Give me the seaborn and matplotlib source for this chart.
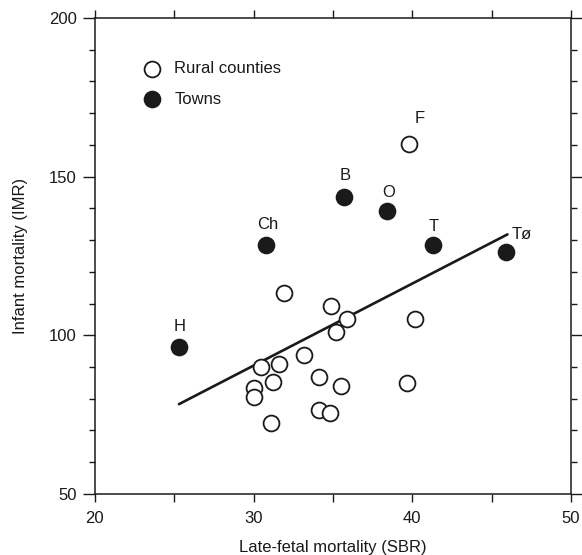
import matplotlib
matplotlib.use("Agg")
import matplotlib.pyplot as plt
from matplotlib.ticker import MultipleLocator
import seaborn as sns
import pandas as pd

# Rural counties: late-fetal mortality (SBR) vs infant mortality (IMR)
rural_sbr = [39.8, 31.9, 30.5, 31.6, 31.2, 30.0, 30.0, 31.1, 33.2, 34.9,
             35.9, 35.2, 40.2, 34.1, 35.5, 39.7, 34.1, 34.8]
rural_imr = [160.3, 113.4, 89.9, 90.9, 85.4, 83.3, 80.7, 72.5, 93.8, 109.2,
             105.1, 101.0, 105.1, 87.0, 84.1, 85.1, 76.5, 75.4]
rural_names = ["F"] + [""] * 17

# Towns
town_names = ["H", "Ch", "B", "O", "T", "Tø"]
town_sbr = [25.3, 30.8, 35.7, 38.4, 41.3, 45.9]
town_imr = [96.2, 128.5, 143.7, 139.3, 128.5, 126.2]

# Regression line end points
fit_sbr = [25.3, 46.0]
fit_imr = [78.3, 131.8]

sns.set_style("ticks")
plt.rcParams["font.family"] = ["Liberation Sans", "DejaVu Sans"]
ink = "#1a1a1a"
fs = 12

fig, ax = plt.subplots(figsize=(5.82, 5.55), dpi=100)
fig.subplots_adjust(left=0.163, right=0.981, top=0.9676, bottom=0.110)

rural = pd.DataFrame({"sbr": rural_sbr, "imr": rural_imr, "name": rural_names})
towns = pd.DataFrame({"sbr": town_sbr, "imr": town_imr, "name": town_names})
fit = pd.DataFrame({"sbr": fit_sbr, "imr": fit_imr})

sns.lineplot(data=fit, x="sbr", y="imr", ax=ax, color=ink, linewidth=1.9,
             zorder=2)
sns.scatterplot(data=rural, x="sbr", y="imr", ax=ax, s=130, marker="o",
                facecolor="white", edgecolor=ink, linewidth=1.3, zorder=3)
sns.scatterplot(data=towns, x="sbr", y="imr", ax=ax, s=130, marker="o",
                color=ink, edgecolor=ink, linewidth=1.3, zorder=3)

# Point labels
label_offsets = {"H": (1, 21), "Ch": (1, 20), "B": (1, 21), "O": (2, 18),
                 "T": (1, 18), "Tø": (16, 18), "F": (11, 25)}
for df in (rural, towns):
    for _, r in df.iterrows():
        if r["name"]:
            dx, dy = label_offsets[r["name"]]
            ax.annotate(r["name"], (r["sbr"], r["imr"]),
                        xytext=(dx, dy), textcoords="offset pixels",
                        ha="center", va="center", fontsize=fs, color=ink)

# Legend drawn as markers plus text in axes coordinates
ax.scatter([0.12], [0.893], s=130, facecolor="white", edgecolor=ink,
           linewidth=1.3, transform=ax.transAxes, clip_on=False, zorder=4)
ax.scatter([0.12], [0.829], s=130, color=ink, edgecolor=ink,
           linewidth=1.3, transform=ax.transAxes, clip_on=False, zorder=4)
ax.text(0.167, 0.893, "Rural counties", transform=ax.transAxes,
        va="center", ha="left", fontsize=fs, color=ink)
ax.text(0.167, 0.829, "Towns", transform=ax.transAxes,
        va="center", ha="left", fontsize=fs, color=ink)

ax.set_xlim(20, 50)
ax.set_ylim(50, 200)
ax.xaxis.set_major_locator(MultipleLocator(10))
ax.xaxis.set_minor_locator(MultipleLocator(5))
ax.yaxis.set_major_locator(MultipleLocator(50))
ax.yaxis.set_minor_locator(MultipleLocator(10))

for side in ("top", "right", "bottom", "left"):
    ax.spines[side].set_visible(True)
    ax.spines[side].set_linewidth(1.1)
    ax.spines[side].set_color(ink)

ax.tick_params(axis="both", which="both", direction="out", color=ink,
               width=1.0, top=True, right=True, labeltop=False,
               labelright=False, labelsize=fs, labelcolor=ink)
ax.tick_params(axis="x", which="both", length=6)
ax.tick_params(axis="x", which="major", pad=6)
ax.tick_params(axis="y", which="major", length=9, pad=4)
ax.tick_params(axis="y", which="minor", length=4.5)

ax.set_xlabel("Late-fetal mortality (SBR)", fontsize=fs, color=ink,
              labelpad=10)
ax.set_ylabel("Infant mortality (IMR)", fontsize=fs, color=ink,
              labelpad=15)

fig.savefig("out.png", dpi=100)
